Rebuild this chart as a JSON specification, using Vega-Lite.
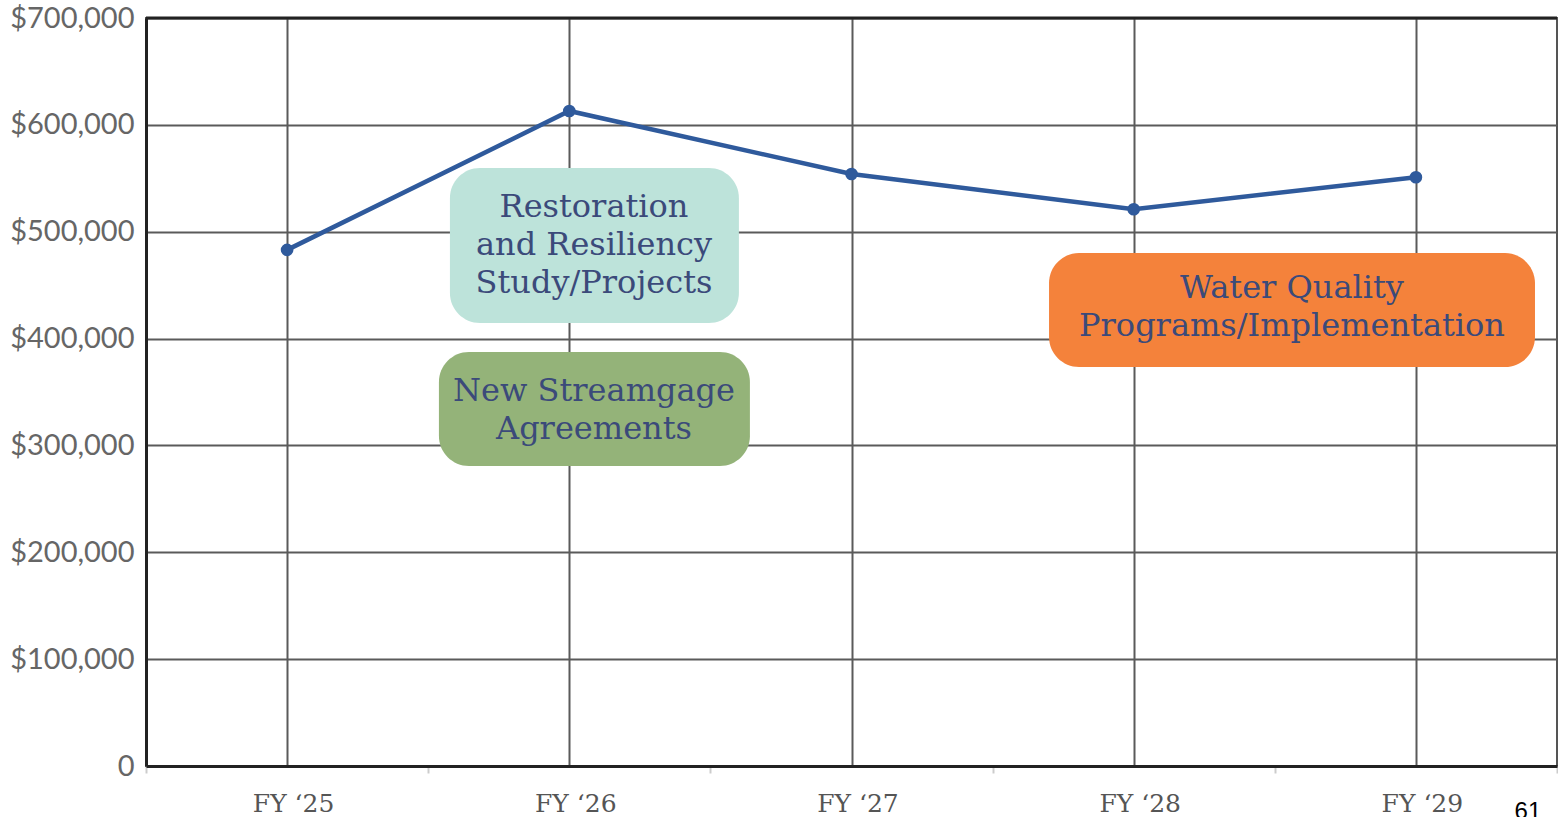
{
  "$schema": "https://vega.github.io/schema/vega-lite/v6.json",
  "width": 1411,
  "height": 748,
  "autosize": "none",
  "padding": {"left": 146, "top": 18, "right": 1, "bottom": 51},
  "background": "white",
  "config": {
    "view": {"stroke": "#555555", "strokeWidth": 2},
    "axisY": {
      "domain": true, "domainColor": "#222222", "domainWidth": 3,
      "ticks": false, "grid": true, "gridColor": "#5a5a5a", "gridWidth": 2,
      "labelFont": "Lato", "labelFontSize": 29, "labelColor": "#666666", "labelPadding": 12,
      "title": null
    }
  },
  "datasets": {
    "series": [
      {"fy": 0, "amount": 483000},
      {"fy": 1, "amount": 613000},
      {"fy": 2, "amount": 554000},
      {"fy": 3, "amount": 521000},
      {"fy": 4, "amount": 551000}
    ],
    "boxes": [
      {"label": "Restoration", "text": "Restoration\nand Resiliency\nStudy/Projects", "x0": 0.577, "x1": 1.601, "y0": 414600, "y1": 559600, "xc": 1.0875, "yc": 523100},
      {"label": "Streamgage", "text": "New Streamgage\nAgreements", "x0": 0.538, "x1": 1.640, "y0": 280700, "y1": 387400, "xc": 1.0875, "yc": 350900},
      {"label": "Water Quality", "text": "Water Quality\nPrograms/Implementation", "x0": 2.700, "x1": 4.422, "y0": 373400, "y1": 480000, "xc": 3.561, "yc": 447300}
    ]
  },
  "resolve": {"axis": {"x": "independent"}},
  "layer": [
    {
      "data": {"name": "boxes"},
      "mark": {"type": "rect", "cornerRadius": 30},
      "encoding": {
        "x": {"field": "x0", "type": "quantitative", "scale": {"domain": [-0.5, 4.5], "nice": false, "zero": false},
          "axis": {"orient": "bottom", "values": [-0.5, 0.5, 1.5, 2.5, 3.5, 4.5], "labels": false, "grid": false, "domain": false,
                   "ticks": true, "tickColor": "#cccccc", "tickWidth": 2, "tickSize": 7, "title": null}},
        "x2": {"field": "x1"},
        "y": {"field": "y0", "type": "quantitative", "scale": {"domain": [0, 700000], "nice": false},
          "axis": {"values": [0, 100000, 200000, 300000, 400000, 500000, 600000, 700000],
                   "labelExpr": "datum.value == 0 ? '0' : '$' + format(datum.value, ',')"}},
        "y2": {"field": "y1"},
        "color": {"field": "label", "type": "nominal", "legend": null,
          "scale": {"domain": ["Restoration", "Streamgage", "Water Quality"], "range": ["#bde3da", "#94b379", "#f4823b"]}}
      }
    },
    {
      "data": {"name": "boxes"},
      "mark": {"type": "text", "font": "DejaVu Serif", "fontSize": 32, "color": "#3b4a7a", "lineBreak": "\n", "lineHeight": 38, "align": "center", "baseline": "middle"},
      "encoding": {
        "x": {"field": "xc", "type": "quantitative", "axis": null},
        "y": {"field": "yc", "type": "quantitative"},
        "text": {"field": "text"}
      }
    },
    {
      "data": {"name": "series"},
      "mark": {"type": "line", "color": "#2f5a9c", "strokeWidth": 4.5},
      "encoding": {
        "x": {"field": "fy", "type": "quantitative",
          "axis": {"orient": "bottom", "values": [0, 1, 2, 3, 4], "labelExpr": "'FY \u2018' + (25 + datum.value)",
                   "ticks": false, "grid": true, "gridColor": "#5a5a5a", "gridWidth": 2,
                   "domain": true, "domainColor": "#222222", "domainWidth": 3,
                   "labelFont": "DejaVu Serif", "labelFontSize": 25, "labelColor": "#555555", "labelPadding": 25,
                   "labelOffset": 6, "title": null}},
        "y": {"field": "amount", "type": "quantitative"}
      }
    },
    {
      "data": {"name": "series"},
      "mark": {"type": "point", "filled": true, "opacity": 1, "color": "#2f5a9c", "size": 160},
      "encoding": {
        "x": {"field": "fy", "type": "quantitative", "axis": null},
        "y": {"field": "amount", "type": "quantitative"}
      }
    },
    {
      "data": {"values": [{}]},
      "mark": {"type": "rule", "color": "#222222", "strokeWidth": 3},
      "encoding": {"y": {"datum": 700000}}
    },
    {
      "data": {"values": [{"page": "61"}]},
      "mark": {"type": "text", "font": "Liberation Sans", "fontSize": 24, "color": "#000000", "align": "center", "baseline": "top"},
      "encoding": {
        "x": {"datum": 4.397, "axis": null},
        "y": {"datum": -31800},
        "text": {"field": "page"}
      }
    }
  ]
}
